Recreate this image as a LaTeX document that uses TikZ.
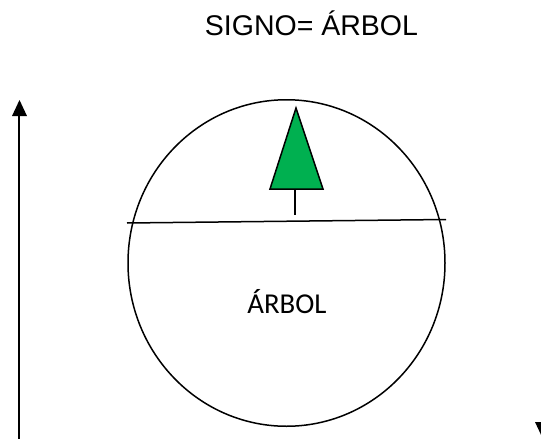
\documentclass[tikz,border=0pt]{standalone}
\usepackage{fontspec}
\usetikzlibrary{shapes.geometric}
\setmainfont{Liberation Sans}
\newfontfamily\bodyfont{Carlito}
\definecolor{treegreen}{HTML}{00B050}
\begin{document}
\begin{tikzpicture}[x=1pt,y=-1pt,
  outline/.style={draw=black,line width=1.5pt},
  ink/.style={inner sep=0pt,text=black,anchor=base}]
\useasboundingbox (0,0) rectangle (541,439);
\clip (0,0) rectangle (541,439);
\node[ink,font=\fontsize{28.5}{32}\selectfont] (title) at (311.5,35) {SIGNO= ÁRBOL};
\node[ink,font=\bodyfont\fontsize{28.8}{32}\selectfont] (word) at (287,313) {ÁRBOL};
\node[ellipse,outline,minimum width=317pt,minimum height=326.5pt,inner sep=0pt] (disc) at (286.5,263) {};
\coordinate (lineL) at (127,223);
\coordinate (lineR) at (446,219.5);
\draw[outline] (lineL) -- (lineR);
\coordinate (treeTop) at (296,108);
\coordinate (treeL) at (270,189);
\coordinate (treeR) at (323,189);
\coordinate (trunkB) at (295,215);
\draw[outline,fill=treegreen] (treeTop) -- (treeR) -- (treeL) -- cycle;
\draw[outline] (295,189) -- (trunkB);
\coordinate (upB) at (19,439);
\coordinate (upT) at (19.5,100);
\fill (upT) -- (27,116) -- (12,116) -- cycle;
\draw[line width=2pt] (upB) -- (19,115);
\fill (542.5,438) -- (535,422) -- (550,422) -- cycle;
\end{tikzpicture}
\end{document}
